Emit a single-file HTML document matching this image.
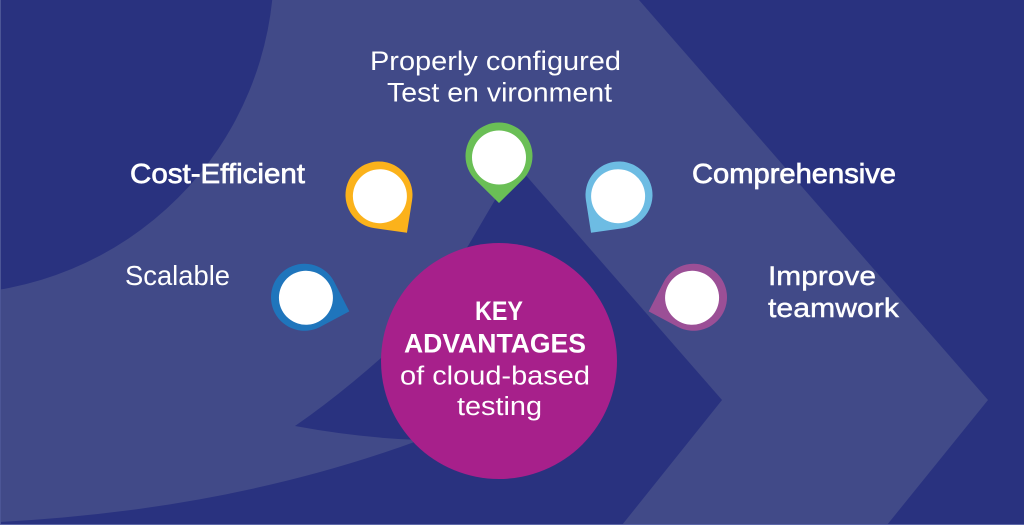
<!DOCTYPE html>
<html>
<head>
<meta charset="utf-8">
<style>
  html, body { margin: 0; padding: 0; background: #29327f; }
  body { width: 1024px; height: 525px; overflow: hidden; }
  svg { display: block; }
  text { font-family: "Liberation Sans", "DejaVu Sans", sans-serif; fill: #ffffff; }
</style>
</head>
<body>
<svg width="1024" height="525" viewBox="0 0 1024 525" xmlns="http://www.w3.org/2000/svg">
  <!-- light base -->
  <rect x="0" y="0" width="1024" height="525" fill="#414a88"/>
  <!-- top-left dark circle -->
  <circle cx="-54" cy="-34" r="328" fill="#29327f"/>
  <!-- right dark area beyond chevron -->
  <path d="M639,0 L1024,0 L1024,525 L887,525 L988,400 Z" fill="#29327f"/>
  <!-- middle dark region (inner chevron + swoosh + bottom crescent) -->
  <path d="M516,164 L722,400 L622,525 L0,525 L0,522 Q230,510 420,440 Q360,438 295,426 Q340,395 390,350 L468,246 Z" fill="#29327f"/>
  <!-- thin borders -->
  <rect x="0" y="0" width="1" height="525" fill="#4c5696"/>
  <rect x="0" y="524" width="1024" height="1" fill="#5d68a8"/>

  <!-- central circle -->
  <circle cx="499" cy="361" r="118" fill="#a7208b"/>

  <!-- pins -->
  <g transform="translate(499,156) rotate(0)">
    <path d="M0,47 L23.48,23.89 A33.5,33.5 0 1 0 -23.48,23.89 Z" fill="#6abf56"/>
    <circle cx="0" cy="1.5" r="27" fill="#ffffff"/>
  </g>
  <g transform="translate(379,195) rotate(-36.5)">
    <path d="M0,47 L23.48,23.89 A33.5,33.5 0 1 0 -23.48,23.89 Z" fill="#fbb21b"/>
    <circle cx="0" cy="1.5" r="27" fill="#ffffff"/>
  </g>
  <g transform="translate(619,195) rotate(36.5)">
    <path d="M0,47 L23.48,23.89 A33.5,33.5 0 1 0 -23.48,23.89 Z" fill="#6dbce3"/>
    <circle cx="0" cy="1.5" r="27" fill="#ffffff"/>
  </g>
  <g transform="translate(304.5,297.3) rotate(-72.5)">
    <path d="M0,47 L23.48,23.89 A33.5,33.5 0 1 0 -23.48,23.89 Z" fill="#1f75bc"/>
    <circle cx="0" cy="1.5" r="27" fill="#ffffff"/>
  </g>
  <g transform="translate(693.5,297.3) rotate(72.5)">
    <path d="M0,47 L23.48,23.89 A33.5,33.5 0 1 0 -23.48,23.89 Z" fill="#9b4f96"/>
    <circle cx="0" cy="1.5" r="27" fill="#ffffff"/>
  </g>

  <!-- labels -->
  <text x="370" y="70" font-size="27" textLength="251" lengthAdjust="spacingAndGlyphs">Properly configured</text>
  <text x="387" y="101.7" font-size="27" textLength="225" lengthAdjust="spacingAndGlyphs">Test en vironment</text>

  <text x="130" y="183" font-size="28" stroke="#ffffff" stroke-width="0.7" textLength="175" lengthAdjust="spacingAndGlyphs">Cost-Efficient</text>
  <text x="692" y="183" font-size="28" stroke="#ffffff" stroke-width="0.7" textLength="204" lengthAdjust="spacingAndGlyphs">Comprehensive</text>

  <text x="125" y="285" font-size="28" textLength="105" lengthAdjust="spacingAndGlyphs">Scalable</text>

  <text x="768" y="285" font-size="27" stroke="#ffffff" stroke-width="0.4" textLength="108" lengthAdjust="spacingAndGlyphs">Improve</text>
  <text x="768" y="317" font-size="27" stroke="#ffffff" stroke-width="0.4" textLength="131" lengthAdjust="spacingAndGlyphs">teamwork</text>

  <!-- circle text -->
  <text x="475" y="320" font-size="26.5" font-weight="bold" textLength="48" lengthAdjust="spacingAndGlyphs">KEY</text>
  <text x="404" y="352.7" font-size="26.5" font-weight="bold" textLength="182" lengthAdjust="spacingAndGlyphs">ADVANTAGES</text>
  <text x="400" y="384.3" font-size="25.5" textLength="190" lengthAdjust="spacingAndGlyphs">of cloud-based</text>
  <text x="457" y="415" font-size="25.5" textLength="85" lengthAdjust="spacingAndGlyphs">testing</text>
</svg>
</body>
</html>
